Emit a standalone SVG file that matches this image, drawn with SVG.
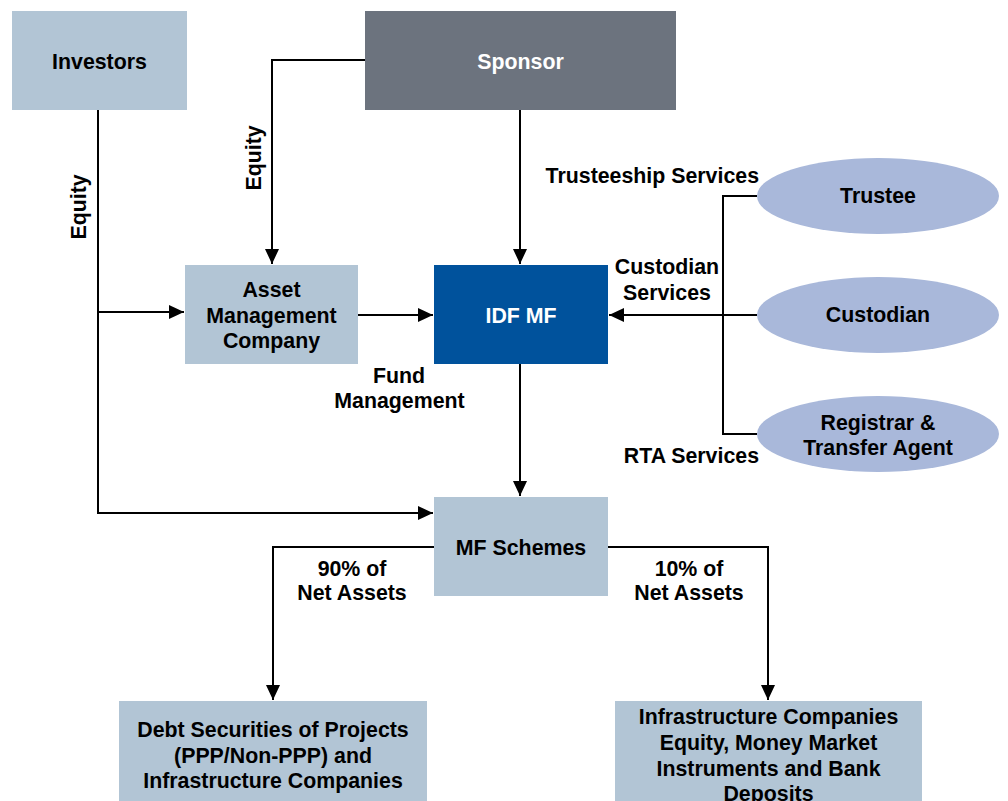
<svg xmlns="http://www.w3.org/2000/svg" width="1008" height="801" viewBox="0 0 1008 801">
  <style>
    .t { font-family: "Liberation Sans", Arial, sans-serif; font-weight: bold; font-size: 21.33px; fill: #000; }
    .w { fill: #fff; }
    .c { text-anchor: middle; }
    .e { text-anchor: end; }
    .box { fill: #b2c5d5; }
    .oval { fill: #a9b8da; }
    .wire { fill: none; stroke: #000; stroke-width: 2; }
  </style>
  <defs>
    <marker id="arrow" markerUnits="userSpaceOnUse" markerWidth="16" markerHeight="16" refX="15" refY="7" orient="auto">
      <path d="M0,0 L15,7 L0,14 z" fill="#000"/>
    </marker>
  </defs>
  <rect width="1008" height="801" fill="#fff"/>

  <g id="connectors">
    <!-- Investors equity trunk, feeding AMC and MF Schemes -->
    <path class="wire" d="M98,110 V513 H433" marker-end="url(#arrow)"/>
    <path class="wire" d="M98,312 H184" marker-end="url(#arrow)"/>
    <!-- Sponsor equity into AMC -->
    <path class="wire" d="M365,60 H272 V264" marker-end="url(#arrow)"/>
    <!-- Sponsor into IDF MF -->
    <path class="wire" d="M520,110 V264" marker-end="url(#arrow)"/>
    <!-- AMC fund management -->
    <path class="wire" d="M358,315 H433" marker-end="url(#arrow)"/>
    <!-- Service providers bus -->
    <path class="wire" d="M757,196 H723 V434 H757"/>
    <path class="wire" d="M757,315 H609" marker-end="url(#arrow)"/>
    <!-- IDF MF to schemes -->
    <path class="wire" d="M520,364 V496" marker-end="url(#arrow)"/>
    <!-- Asset allocation -->
    <path class="wire" d="M434,547 H273 V700" marker-end="url(#arrow)"/>
    <path class="wire" d="M608,547 H768 V700" marker-end="url(#arrow)"/>
  </g>

  <g id="connector-labels">
    <text class="t c" transform="translate(86,207) rotate(-90)">Equity</text>
    <text class="t c" transform="translate(261,158) rotate(-90)">Equity</text>
    <text class="t e" x="759" y="183">Trusteeship Services</text>
    <text class="t c" x="667" y="274">Custodian</text>
    <text class="t c" x="667" y="300">Services</text>
    <text class="t e" x="759" y="463">RTA Services</text>
    <text class="t c" x="399" y="383">Fund</text>
    <text class="t c" x="399.5" y="408">Management</text>
    <text class="t c" x="352" y="576">90% of</text>
    <text class="t c" x="352" y="600">Net Assets</text>
    <text class="t c" x="689" y="576">10% of</text>
    <text class="t c" x="689" y="600">Net Assets</text>
  </g>

  <g id="investors">
    <rect class="box" x="12" y="11" width="175" height="99"/>
    <text class="t c" x="99.5" y="69">Investors</text>
  </g>

  <g id="sponsor">
    <rect x="365" y="11" width="311" height="99" fill="#6c737e"/>
    <text class="t c w" x="520.5" y="69">Sponsor</text>
  </g>

  <g id="amc">
    <rect class="box" x="185" y="265" width="173" height="99"/>
    <text class="t c" x="271.5" y="297">Asset</text>
    <text class="t c" x="271.5" y="323">Management</text>
    <text class="t c" x="271.5" y="348">Company</text>
  </g>

  <g id="idf-mf">
    <rect x="434" y="265" width="174" height="99" fill="#00529c"/>
    <text class="t c w" x="521" y="323">IDF MF</text>
  </g>

  <g id="trustee">
    <ellipse class="oval" cx="878" cy="196" rx="121" ry="38"/>
    <text class="t c" x="878" y="203">Trustee</text>
  </g>

  <g id="custodian">
    <ellipse class="oval" cx="878" cy="315" rx="121" ry="38"/>
    <text class="t c" x="878" y="322">Custodian</text>
  </g>

  <g id="registrar">
    <ellipse class="oval" cx="878" cy="434" rx="121" ry="38"/>
    <text class="t c" x="878" y="430">Registrar &amp;</text>
    <text class="t c" x="878" y="455">Transfer Agent</text>
  </g>

  <g id="mf-schemes">
    <rect class="box" x="434" y="497" width="174" height="99"/>
    <text class="t c" x="521" y="555">MF Schemes</text>
  </g>

  <g id="debt-securities">
    <rect class="box" x="119" y="701" width="308" height="100"/>
    <text class="t c" x="273" y="737">Debt Securities of Projects</text>
    <text class="t c" x="273" y="763">(PPP/Non-PPP) and</text>
    <text class="t c" x="273" y="788">Infrastructure Companies</text>
  </g>

  <g id="equity-money-market">
    <rect class="box" x="615" y="701" width="307" height="100"/>
    <text class="t c" x="768.5" y="724">Infrastructure Companies</text>
    <text class="t c" x="768.5" y="750">Equity, Money Market</text>
    <text class="t c" x="768.5" y="776">Instruments and Bank</text>
    <text class="t c" x="768.5" y="801">Deposits</text>
  </g>
</svg>
